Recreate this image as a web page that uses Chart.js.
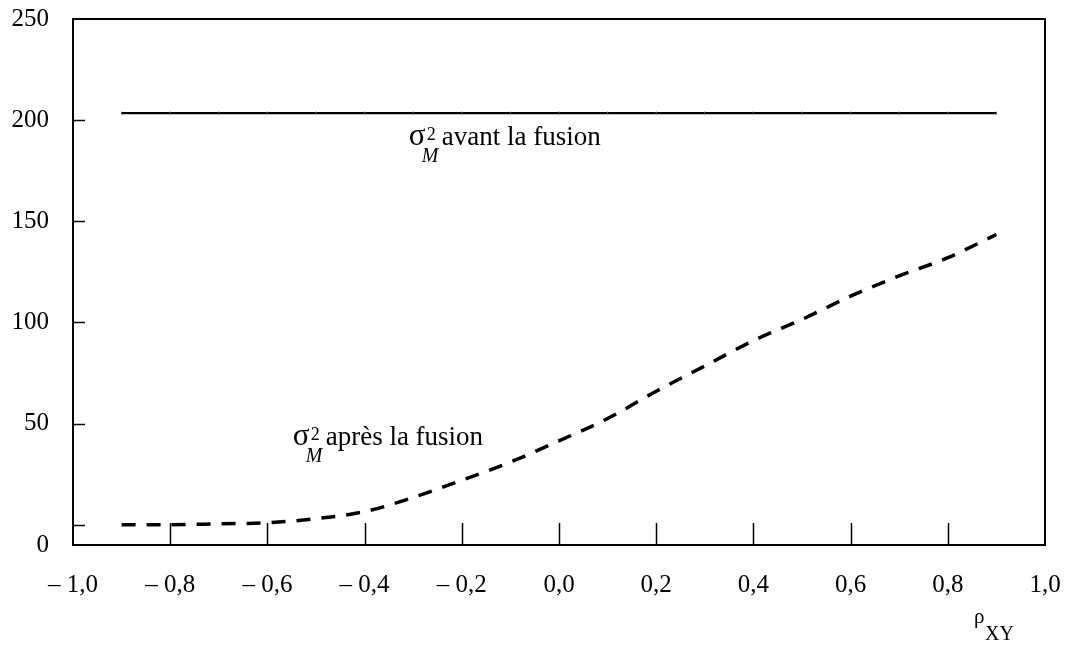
<!DOCTYPE html>
<html>
<head>
<meta charset="utf-8">
<script src="https://cdn.jsdelivr.net/npm/chart.js@4.4.1/dist/chart.umd.min.js"></script>
<style>
  html, body { margin: 0; padding: 0; background: #fff; }
  #wrap { width: 1065px; height: 645px; }
</style>
</head>
<body>
<div id="wrap"><canvas id="chart" width="1065" height="645"></canvas></div>
<script>
// ---- data ----
const rho = [-0.9, -0.8, -0.7, -0.6, -0.5, -0.4, -0.3, -0.2, -0.1, 0.0,
             0.1, 0.2, 0.3, 0.4, 0.5, 0.6, 0.7, 0.8, 0.9];
const avantFusion = [203.5, 203.5, 203.5, 203.5, 203.5, 203.5, 203.5, 203.5, 203.5, 203.5,
                     203.5, 203.5, 203.5, 203.5, 203.5, 203.5, 203.5, 203.5, 203.5];
const apresFusion = [0, 0, 0.5, 1, 3, 6.5, 13.5, 22, 31, 41.5,
                     52.5, 66, 78.5, 91, 101.5, 113, 123, 132, 143.5];

const xTickValues = [-1, -0.8, -0.6, -0.4, -0.2, 0, 0.2, 0.4, 0.6, 0.8, 1];
const xTickLabels = ["– 1,0", "– 0,8", "– 0,6", "– 0,4", "– 0,2", "0,0", "0,2", "0,4", "0,6", "0,8", "1,0"];
const yTickValues = [-10, 0, 50, 100, 150, 200, 250];
const yTickLabels = ["0", "", "50", "100", "150", "200", "250"];

const FONT = "'Liberation Serif', 'Times New Roman', serif";

const toPoints = (xs, ys) => xs.map((x, i) => ({ x: x, y: ys[i] }));

// inward ticks, top/right frame and the text labels
const decor = {
    id: "decor",
    afterDraw(chart) {
        const ctx = chart.ctx;
        const a = chart.chartArea;
        const xs = chart.scales.x, ys = chart.scales.y;
        ctx.save();
        ctx.strokeStyle = "#000";

        // frame top + right
        ctx.lineWidth = 2;
        ctx.beginPath();
        ctx.moveTo(a.left, a.top);
        ctx.lineTo(a.right, a.top);
        ctx.lineTo(a.right, a.bottom);
        ctx.stroke();

        // inward ticks
        ctx.lineWidth = 1.5;
        ctx.beginPath();
        [0, 50, 100, 150, 200].forEach(v => {
            const y = Math.round(ys.getPixelForValue(v)) + 0.5;
            ctx.moveTo(a.left, y);
            ctx.lineTo(a.left + 12, y);
        });
        xTickValues.slice(1, -1).forEach(v => {
            const x = Math.round(xs.getPixelForValue(v)) + 0.5;
            ctx.moveTo(x, a.bottom);
            ctx.lineTo(x, a.bottom - 22);
        });
        ctx.stroke();

        // series labels
        ctx.fillStyle = "#000";
        ctx.textBaseline = "alphabetic";
        ctx.textAlign = "left";
        function sigmaLabel(xv, yv, text) {
            const x = xs.getPixelForValue(xv);
            const y = ys.getPixelForValue(yv);
            ctx.font = "31px " + FONT;
            ctx.fillText("σ", x, y);
            ctx.font = "18px " + FONT;
            ctx.fillText("2", x + 18, y - 5);
            ctx.font = "italic 20px " + FONT;
            ctx.fillText("M", x + 13, y + 17);
            ctx.font = "27px " + FONT;
            ctx.fillText(text, x + 33, y);
        }
        sigmaLabel(-0.309, 187.7, "avant la fusion");
        sigmaLabel(-0.548, 39.5, "après la fusion");

        // axis title
        ctx.font = "21px " + FONT;
        ctx.fillText("ρ", 974, 623);
        ctx.font = "20px " + FONT;
        ctx.fillText("XY", 985, 640);
        ctx.restore();
    }
};

new Chart(document.getElementById("chart"), {
    type: "line",
    data: {
        datasets: [{
            label: "avant la fusion",
            data: toPoints(rho, avantFusion),
            borderColor: "#000",
            borderWidth: 2.2,
            pointStyle: "line",
            rotation: 90,
            pointRadius: 1.5,
            pointBorderWidth: 1,
            pointBorderColor: "#555",
            tension: 0
        }, {
            label: "après la fusion",
            data: toPoints(rho, apresFusion),
            borderColor: "#000",
            borderWidth: 3.5,
            borderDash: [14, 11],
            pointRadius: 0,
            cubicInterpolationMode: "monotone"
        }]
    },
    options: {
        responsive: false,
        animation: false,
        layout: { padding: { top: 19, right: 20, left: 0, bottom: 0 } },
        plugins: { legend: { display: false }, tooltip: { enabled: false } },
        scales: {
            x: {
                type: "linear",
                min: -1, max: 1,
                afterBuildTicks: s => { s.ticks = xTickValues.map(v => ({ value: v })); },
                afterFit: s => { s.height = 100; s.paddingLeft = 0; s.paddingRight = 0; },
                grid: { drawOnChartArea: false, drawTicks: false },
                border: { display: true, color: "#000", width: 2 },
                ticks: {
                    padding: 25,
                    color: "#000",
                    font: { family: FONT, size: 25 },
                    maxRotation: 0,
                    callback: (v, i) => xTickLabels[i]
                }
            },
            y: {
                min: -10, max: 250,
                afterBuildTicks: s => { s.ticks = yTickValues.map(v => ({ value: v })); },
                afterFit: s => { s.width = 73; s.paddingTop = 0; s.paddingBottom = 0; },
                grid: { drawOnChartArea: false, drawTicks: false },
                border: { display: true, color: "#000", width: 2 },
                ticks: {
                    padding: 24,
                    color: "#000",
                    font: { family: FONT, size: 25 },
                    callback: (v, i) => yTickLabels[i]
                }
            }
        }
    },
    plugins: [decor]
});
</script>
</body>
</html>
